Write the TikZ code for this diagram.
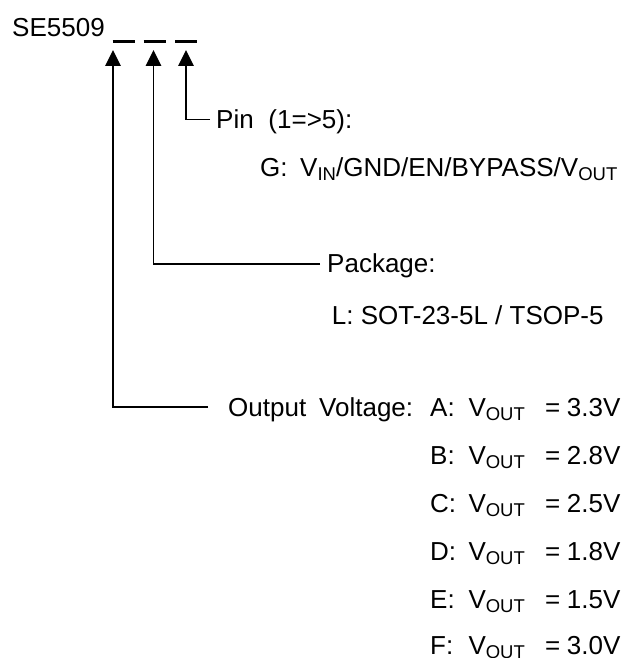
\documentclass[tikz,border=0pt]{standalone}
\usepackage{fontspec}
\setmainfont{Liberation Sans}
\usetikzlibrary{arrows.meta,calc}
\newcommand\subtx[1]{\raisebox{-4pt}{\fontsize{18.5}{20}\selectfont #1}}
\newcommand\vrow[2]{\makebox[38.3pt][l]{#1}\makebox[76.7pt][l]{V\subtx{OUT}}\makebox[21.7pt][l]{=}#2}
\begin{document}
\begin{tikzpicture}[x=1pt,y=-1pt,
  lbl/.style={anchor=base west, inner sep=0pt, font=\fontsize{26}{30}\selectfont},
  conn/.style={line width=1.7pt, -{Triangle[length=16pt,width=15.5pt]}},
  dashbar/.style={line width=2.7pt}]
\useasboundingbox (0,0) rectangle (623,658);
\fill[white] (0,0) rectangle (623,658);
% part number and placeholders
\node[lbl] (part) at (12,36.7) {SE5509};
\draw[dashbar] (112.7,41.7) -- (135,41.7);
\draw[dashbar] (143.5,41.7) -- (165.7,41.7);
\draw[dashbar] (175,41.7) -- (197,41.7);
\coordinate (t1) at (113,50);
\coordinate (t2) at (153.5,50);
\coordinate (t3) at (186,50);
% labels
\node[lbl] (pin) at (216,128.5) {\makebox[52.3pt][l]{Pin}(1=>5):};
\node[lbl] (pinG) at (260,176) {\makebox[40pt][l]{G:}V\subtx{IN}/GND/EN/BYPASS/V\subtx{OUT}};
\node[lbl] (pkg) at (327,272) {Package:};
\node[lbl] (pkgL) at (331.7,324) {L: SOT-23-5L / TSOP-5};
\node[lbl] (outv) at (228,416) {\makebox[91pt][l]{Output}Voltage:};
\node[lbl] (va) at (430,416) {\vrow{A:}{3.3V}};
\node[lbl] (vb) at (430,464) {\vrow{B:}{2.8V}};
\node[lbl] (vc) at (430,512) {\vrow{C:}{2.5V}};
\node[lbl] (vd) at (430,560) {\vrow{D:}{1.8V}};
\node[lbl] (ve) at (430,608) {\vrow{E:}{1.5V}};
\node[lbl] (vf) at (430,654) {\vrow{F:}{3.0V}};
% connectors
\draw[conn] ([xshift=-6pt,yshift=9pt]pin.base west) -| (t3);
\draw[conn] ([xshift=-7pt,yshift=8pt]pkg.base west) -| (t2);
\draw[conn] ([xshift=-20pt,yshift=9pt]outv.base west) -| (t1);
\end{tikzpicture}
\end{document}
